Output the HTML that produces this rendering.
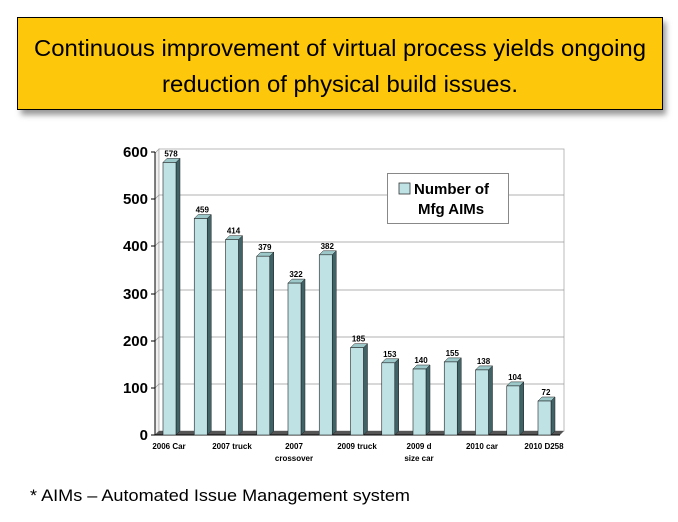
<!DOCTYPE html>
<html><head><meta charset="utf-8"><style>
body{margin:0;background:#fff;width:678px;height:517px;overflow:hidden;font-family:"Liberation Sans",sans-serif}
</style></head><body>
<svg width="678" height="517" xmlns="http://www.w3.org/2000/svg" font-family="Liberation Sans, sans-serif">
<defs><filter id="sh" x="-5%" y="-20%" width="115%" height="150%"><feGaussianBlur stdDeviation="3"/></filter></defs>
<rect x="21" y="22" width="645" height="93" fill="#999" filter="url(#sh)"/>
<rect x="17.5" y="17.5" width="645" height="92" fill="#fdc70b" stroke="#000" stroke-width="1"/>
<text x="340" y="56" font-size="23" text-anchor="middle" textLength="612" lengthAdjust="spacingAndGlyphs">Continuous improvement of virtual process yields ongoing</text>
<text x="340" y="92" font-size="23" text-anchor="middle" textLength="356" lengthAdjust="spacingAndGlyphs">reduction of physical build issues.</text>
<polygon points="155,435 155,153 159,149 159,431" fill="#f0f0f0" stroke="#999" stroke-width="0.7"/>
<rect x="159" y="149" width="405" height="282" fill="#fff" stroke="#aaa" stroke-width="0.8"/>
<g stroke="#999" stroke-width="0.8">
<line x1="159" y1="384" x2="564" y2="384"/><line x1="159" y1="337" x2="564" y2="337"/>
<line x1="159" y1="290" x2="564" y2="290"/><line x1="159" y1="242" x2="564" y2="242"/>
<line x1="159" y1="195" x2="564" y2="195"/>
<line x1="155" y1="388" x2="159" y2="384"/><line x1="155" y1="341" x2="159" y2="337"/>
<line x1="155" y1="294" x2="159" y2="290"/><line x1="155" y1="246" x2="159" y2="242"/>
<line x1="155" y1="199" x2="159" y2="195"/>
</g>
<polygon points="155,435 560,435 564,431 159,431" fill="#555"/>
<line x1="155" y1="435" x2="560" y2="435" stroke="#000"/>
<line x1="155" y1="152" x2="155" y2="435" stroke="#000"/>
<g stroke="#000" stroke-width="1">
<line x1="151" y1="435" x2="155" y2="435"/><line x1="151" y1="388" x2="155" y2="388"/>
<line x1="151" y1="341" x2="155" y2="341"/><line x1="151" y1="294" x2="155" y2="294"/>
<line x1="151" y1="246" x2="155" y2="246"/><line x1="151" y1="199" x2="155" y2="199"/>
<line x1="151" y1="152" x2="155" y2="152"/>
</g>
<g font-size="15" font-weight="bold" text-anchor="end">
<text x="148" y="440">0</text><text x="148" y="393">100</text><text x="148" y="346">200</text>
<text x="148" y="299">300</text><text x="148" y="251">400</text><text x="148" y="204">500</text>
<text x="148" y="157">600</text>
</g>
<g font-size="8" font-weight="bold" text-anchor="middle">
<g transform="translate(163,0)"><polygon points="13,162.4 17,158.4 17,431 13,435" fill="#3f6366" stroke="#222" stroke-width="0.5"/><polygon points="0,162.4 4,158.4 17,158.4 13,162.4" fill="#9cc8ca" stroke="#222" stroke-width="0.5"/><rect x="0" y="162.4" width="13" height="272.6" fill="#bfe3e5" stroke="#222" stroke-width="0.6"/><text x="8" y="156.4">578</text></g>
<g transform="translate(194.25,0)"><polygon points="13,218.5 17,214.5 17,431 13,435" fill="#3f6366" stroke="#222" stroke-width="0.5"/><polygon points="0,218.5 4,214.5 17,214.5 13,218.5" fill="#9cc8ca" stroke="#222" stroke-width="0.5"/><rect x="0" y="218.5" width="13" height="216.5" fill="#bfe3e5" stroke="#222" stroke-width="0.6"/><text x="8" y="212.5">459</text></g>
<g transform="translate(225.5,0)"><polygon points="13,239.7 17,235.7 17,431 13,435" fill="#3f6366" stroke="#222" stroke-width="0.5"/><polygon points="0,239.7 4,235.7 17,235.7 13,239.7" fill="#9cc8ca" stroke="#222" stroke-width="0.5"/><rect x="0" y="239.7" width="13" height="195.3" fill="#bfe3e5" stroke="#222" stroke-width="0.6"/><text x="8" y="233.7">414</text></g>
<g transform="translate(256.75,0)"><polygon points="13,256.2 17,252.2 17,431 13,435" fill="#3f6366" stroke="#222" stroke-width="0.5"/><polygon points="0,256.2 4,252.2 17,252.2 13,256.2" fill="#9cc8ca" stroke="#222" stroke-width="0.5"/><rect x="0" y="256.2" width="13" height="178.8" fill="#bfe3e5" stroke="#222" stroke-width="0.6"/><text x="8" y="250.2">379</text></g>
<g transform="translate(288,0)"><polygon points="13,283.1 17,279.1 17,431 13,435" fill="#3f6366" stroke="#222" stroke-width="0.5"/><polygon points="0,283.1 4,279.1 17,279.1 13,283.1" fill="#9cc8ca" stroke="#222" stroke-width="0.5"/><rect x="0" y="283.1" width="13" height="151.9" fill="#bfe3e5" stroke="#222" stroke-width="0.6"/><text x="8" y="277.1">322</text></g>
<g transform="translate(319.25,0)"><polygon points="13,254.8 17,250.8 17,431 13,435" fill="#3f6366" stroke="#222" stroke-width="0.5"/><polygon points="0,254.8 4,250.8 17,250.8 13,254.8" fill="#9cc8ca" stroke="#222" stroke-width="0.5"/><rect x="0" y="254.8" width="13" height="180.2" fill="#bfe3e5" stroke="#222" stroke-width="0.6"/><text x="8" y="248.8">382</text></g>
<g transform="translate(350.5,0)"><polygon points="13,347.7 17,343.7 17,431 13,435" fill="#3f6366" stroke="#222" stroke-width="0.5"/><polygon points="0,347.7 4,343.7 17,343.7 13,347.7" fill="#9cc8ca" stroke="#222" stroke-width="0.5"/><rect x="0" y="347.7" width="13" height="87.3" fill="#bfe3e5" stroke="#222" stroke-width="0.6"/><text x="8" y="341.7">185</text></g>
<g transform="translate(381.75,0)"><polygon points="13,362.8 17,358.8 17,431 13,435" fill="#3f6366" stroke="#222" stroke-width="0.5"/><polygon points="0,362.8 4,358.8 17,358.8 13,362.8" fill="#9cc8ca" stroke="#222" stroke-width="0.5"/><rect x="0" y="362.8" width="13" height="72.2" fill="#bfe3e5" stroke="#222" stroke-width="0.6"/><text x="8" y="356.8">153</text></g>
<g transform="translate(413,0)"><polygon points="13,369 17,365 17,431 13,435" fill="#3f6366" stroke="#222" stroke-width="0.5"/><polygon points="0,369 4,365 17,365 13,369" fill="#9cc8ca" stroke="#222" stroke-width="0.5"/><rect x="0" y="369" width="13" height="66" fill="#bfe3e5" stroke="#222" stroke-width="0.6"/><text x="8" y="363">140</text></g>
<g transform="translate(444.25,0)"><polygon points="13,361.9 17,357.9 17,431 13,435" fill="#3f6366" stroke="#222" stroke-width="0.5"/><polygon points="0,361.9 4,357.9 17,357.9 13,361.9" fill="#9cc8ca" stroke="#222" stroke-width="0.5"/><rect x="0" y="361.9" width="13" height="73.1" fill="#bfe3e5" stroke="#222" stroke-width="0.6"/><text x="8" y="355.9">155</text></g>
<g transform="translate(475.5,0)"><polygon points="13,369.9 17,365.9 17,431 13,435" fill="#3f6366" stroke="#222" stroke-width="0.5"/><polygon points="0,369.9 4,365.9 17,365.9 13,369.9" fill="#9cc8ca" stroke="#222" stroke-width="0.5"/><rect x="0" y="369.9" width="13" height="65.1" fill="#bfe3e5" stroke="#222" stroke-width="0.6"/><text x="8" y="363.9">138</text></g>
<g transform="translate(506.75,0)"><polygon points="13,385.9 17,381.9 17,431 13,435" fill="#3f6366" stroke="#222" stroke-width="0.5"/><polygon points="0,385.9 4,381.9 17,381.9 13,385.9" fill="#9cc8ca" stroke="#222" stroke-width="0.5"/><rect x="0" y="385.9" width="13" height="49.1" fill="#bfe3e5" stroke="#222" stroke-width="0.6"/><text x="8" y="379.9">104</text></g>
<g transform="translate(538,0)"><polygon points="13,401 17,397 17,431 13,435" fill="#3f6366" stroke="#222" stroke-width="0.5"/><polygon points="0,401 4,397 17,397 13,401" fill="#9cc8ca" stroke="#222" stroke-width="0.5"/><rect x="0" y="401" width="13" height="34" fill="#bfe3e5" stroke="#222" stroke-width="0.6"/><text x="8" y="395">72</text></g>
</g>
<g font-size="8" font-weight="bold" text-anchor="middle">
<text x="169" y="449">2006 Car</text>
<text x="232" y="449">2007 truck</text>
<text x="294" y="449">2007</text><text x="294" y="461">crossover</text>
<text x="357" y="449">2009 truck</text>
<text x="419" y="449">2009 d</text><text x="419" y="461">size  car</text>
<text x="482" y="449">2010 car</text>
<text x="544" y="449">2010 D258</text>
</g>
<rect x="387.5" y="173.5" width="121" height="50" fill="#fff" stroke="#888"/>
<rect x="399" y="183" width="11" height="11" fill="#bfe3e5" stroke="#333" stroke-width="0.8"/>
<text x="414" y="194" font-size="15" font-weight="bold">Number of</text>
<text x="418" y="214" font-size="15" font-weight="bold">Mfg AIMs</text>
<text x="30" y="501" font-size="17" textLength="380" lengthAdjust="spacingAndGlyphs">* AIMs – Automated Issue Management system</text>
</svg>
</body></html>
